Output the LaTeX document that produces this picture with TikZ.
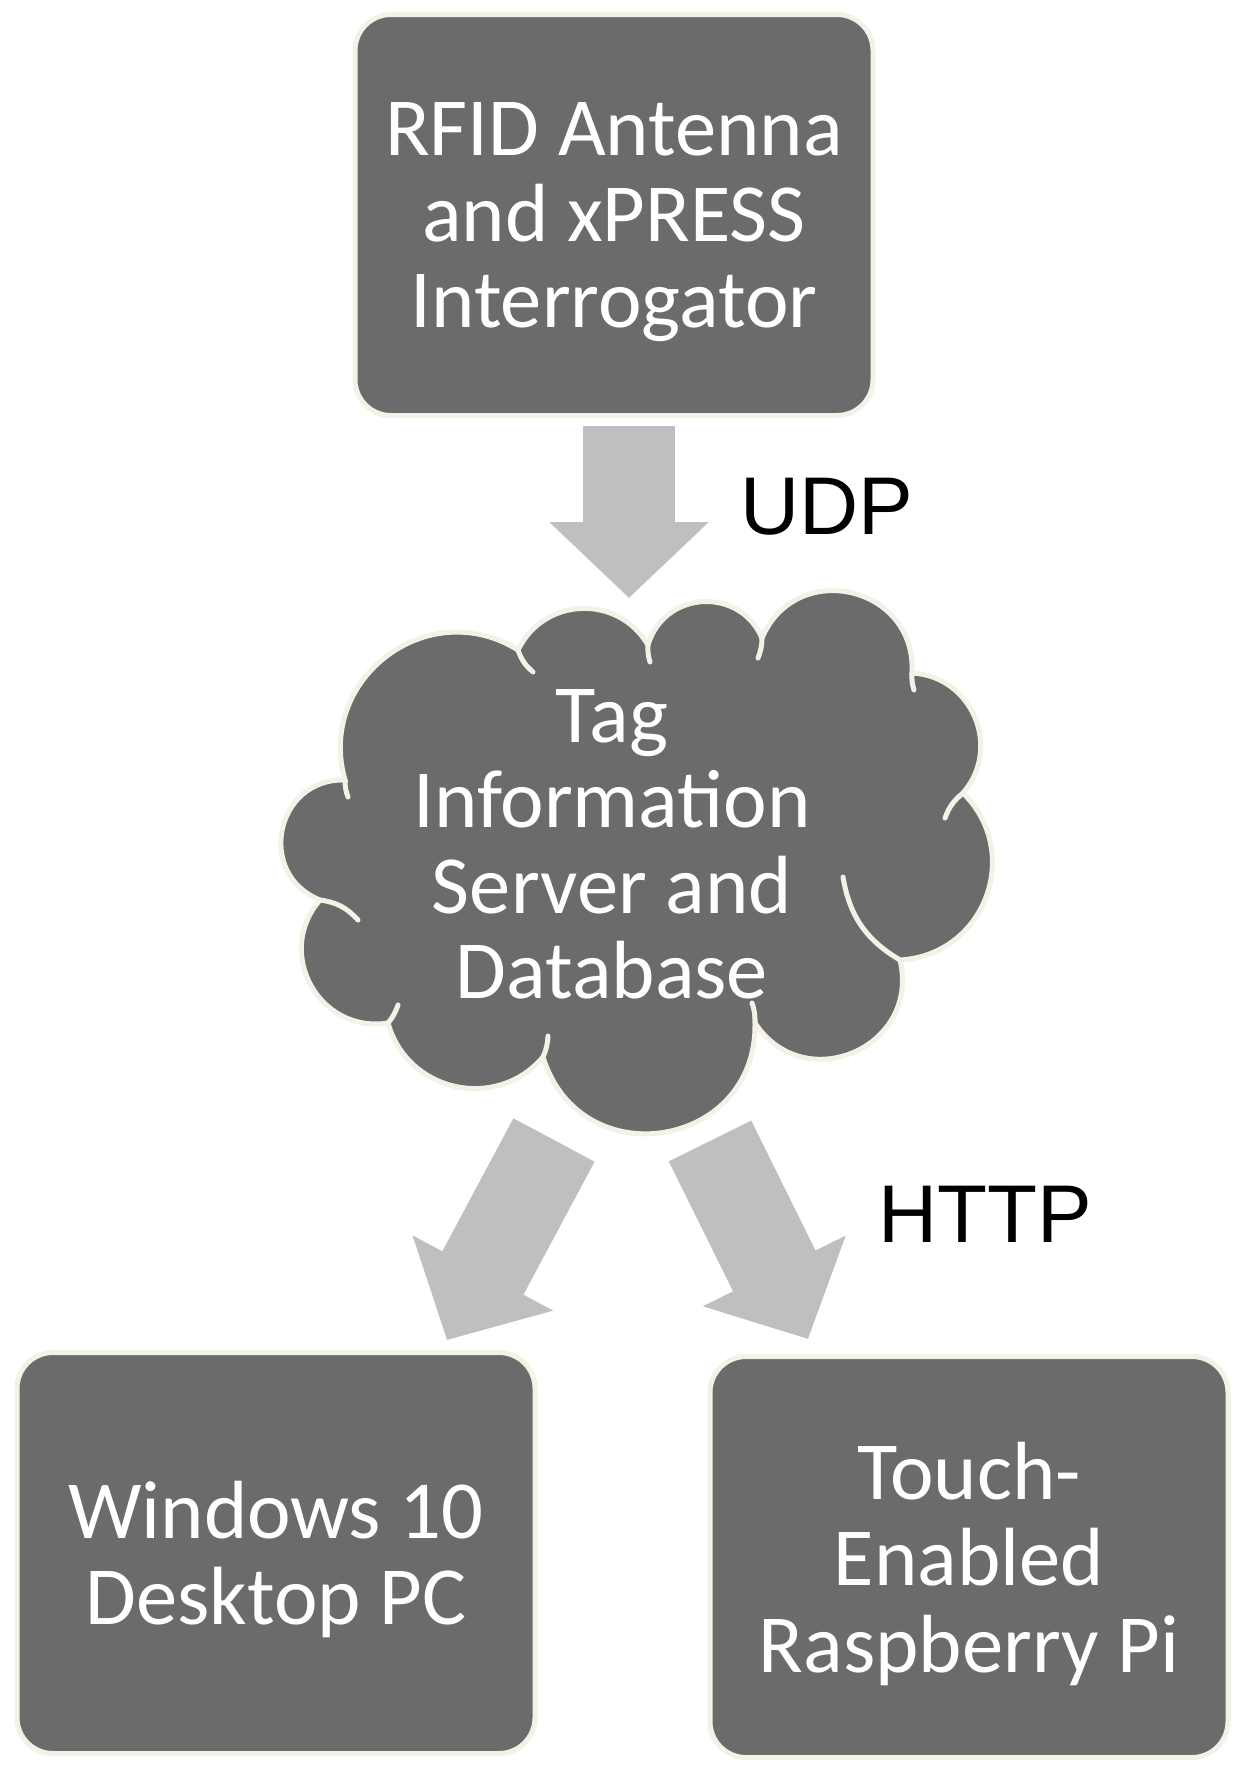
\documentclass[tikz,border=0pt]{standalone}
\usepackage{fontspec}
\setmainfont{Carlito}
\newfontfamily\labelfont{Liberation Sans}
\usetikzlibrary{positioning, arrows.meta, calc}
\definecolor{boxgray}{RGB}{107,107,107}
\definecolor{edgecream}{RGB}{244,242,230}
\definecolor{arrowgray}{RGB}{191,191,191}

\begin{document}
\begin{tikzpicture}[x=0.1mm, y=-0.1mm,
  device/.style={draw=edgecream, line width=0.5mm, fill=boxgray, rounded corners=3.6mm,
    minimum width=51.8mm, minimum height=40.1mm, align=center, text=white,
    text depth=0pt, font=\fontsize{23.5}{24.6}\selectfont},
  cloudtext/.style={align=center, text=white, text depth=0pt, font=\fontsize{23.5}{24.3}\selectfont},
  proto/.style={anchor=west, inner sep=0pt, font=\labelfont\fontsize{23.3}{28}\selectfont},
  flow/.style={draw=arrowgray, line width=9.2mm, -{Triangle[width=15.5mm, length=7.6mm]}},
  seam/.style={draw=edgecream, line width=0.5mm, line cap=round}]
  \useasboundingbox (0,0) rectangle (1247,1779);
  \fill[white] (0,0) rectangle (1247,1779);

  % boxes
  \node [device] (rfid) at (614,215) {RFID Antenna\\and xPRESS\\Interrogator};
  \node [device] (pc) at (276,1553) {Windows 10\\Desktop PC};
  \node [device] (rpi) at (969,1557) {Touch-\\Enabled\\Raspberry Pi};

  % cloud
  \filldraw [fill=boxgray, draw=edgecream, line width=0.5mm]
    (518,650) to[bend left=62, looseness=1.16] (648,645)
    to[bend left=70, looseness=1.27] (762,638)
    to[bend left=80, looseness=1.45] (912,673)
    to[bend left=64, looseness=1.18] (963,793)
    to[bend left=66, looseness=1.22] (900,960)
    to[bend left=80, looseness=1.45] (755,1023)
    to[bend left=82, looseness=1.5] (543,1057)
    to[bend left=62, looseness=1.16] (388,1023)
    to[bend left=70, looseness=1.27] (320,900)
    to[bend left=80, looseness=1.45] (345,780)
    to[bend left=69, looseness=1.25] (518,650) -- cycle;
  \draw [seam] (518,650) to[bend right=15] (533,672);
  \draw [seam] (648,645) to[bend right=10] (650,662);
  \draw [seam] (762,638) to[bend left=10] (758,658);
  \draw [seam] (912,673) to[bend right=10] (914,690);
  \draw [seam] (963,793) to[bend right=15] (945,818);
  \draw [seam] (900,960) to[bend left=25] (843,877);
  \draw [seam] (755,1023) to[bend right=10] (752,1003);
  \draw [seam] (543,1057) to[bend right=10] (548,1036);
  \draw [seam] (388,1023) to[bend right=10] (398,1005);
  \draw [seam] (320,900) to[bend left=20] (358,920);
  \draw [seam] (345,780) to[bend right=10] (348,797);
  \node [cloudtext] (tis) at (612,844) {Tag\\Information\\Server and\\Database};

  % edges
  \draw [flow] ($(rfid.south)+(15,8)$) -- ($(tis.center)+(17,-246)$);
  \draw [flow] ($(tis.center)+(-58,296)$) -- ($(pc.north)+(171,-10)$);
  \draw [flow] ($(tis.center)+(98,297)$) -- ($(rpi.north)+(-161,-15)$);

  % labels
  \node [proto] (udp) at (740,507) {UDP};
  \node [proto] (http) at (878,1214) {HTTP};
\end{tikzpicture}
\end{document}
